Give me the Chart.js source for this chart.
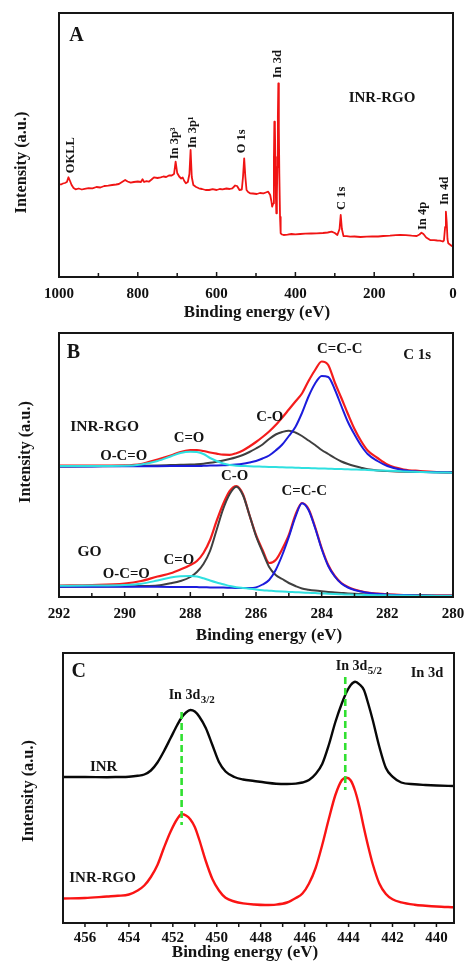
<!DOCTYPE html>
<html><head><meta charset="utf-8">
<script src="https://cdn.jsdelivr.net/npm/chart.js@4.4.1/dist/chart.umd.min.js"></script>
<style>
html,body{margin:0;padding:0;background:#fff;}
#wrap{position:relative;width:464px;height:964px;overflow:hidden;background:#fff;}
canvas{position:absolute;left:0;}
</style></head><body>
<div id="wrap">
<canvas id="chartA" width="464" height="323" style="top:0px"></canvas>
<canvas id="chartB" width="464" height="324" style="top:323px"></canvas>
<canvas id="chartC" width="464" height="317" style="top:647px"></canvas>
</div>
<script>
// ================= DATA =================
// Panel A: survey spectrum of INR-RGO
const surveyEnergy = [1000,995,990,985,980,976,972,968,963,958,950,942,935,925,915,905,895,885,875,865,855,848,840,832,826,818,810,800,792,788,784,778,772,765,759,750,742,735,728,721,714,708,704,700,695,690,686,682,678,673,669,666,663,659,652,645,637,628,619,610,600,592,585,575,567,560,553,548,542,536,533,530,527,524,520,515,508,498,490,481,475,469,464,461,459,456,454.5,453.4,452,450.9,449.5,448.4,447,445.8,444.5,443.3,442,440.8,439,437.4,434,430,420,410,400,388,375,360,346,330,318,308,300,293.5,288,285,282,278,270,261,250,235,219,205,190,177,160,145,134,120,105,92,85,80,75,68,58,48,40,33,26,23,20,18,16,14,12,8,3,0];
const surveyIntensity = [93,92.5,93.5,94,95,99.7,96,92,89,87.7,88.5,87.5,88.2,88.8,88.7,90,89.5,91,91.3,92,92.5,93,95,97,95.5,94.3,95,95.5,95,97.7,95,95.8,95.3,97.5,99.7,99,99.7,100.5,100,101.5,101.5,103,115.3,104,100.5,98.5,99.5,96,93.7,95,103,127,100,92,90,88.7,88,87,87,87.8,87,88,87.7,88.5,88,88.7,91.5,91,87,87.5,100,118.7,100,87,85,83.7,83.5,83,84,83.7,84.5,85.3,82,76,70.3,73.7,120,155.3,150,120,80,63.7,80,110,160,193.7,150,103.7,60,43.7,42.5,42,42.3,43,42.6,43,43.3,43.5,43.7,44,44.5,45.3,44,42,48,62,48,41,40.8,40.3,40.5,40,40.3,40.6,40.5,41,41.3,41.8,42,41.8,41.3,41,42.5,44.3,43,39.5,37,36.8,36.5,36.3,35.5,36.5,50,65.3,55,38,33.7,32.5,31,30.5];
const surveyTicks = [1000,800,600,400,200,0];
const surveyMinorTicks = [900,700,500,300,100];
const surveyPeakNames = ['OKLL','In 3p\u00B3','In 3p\u00B9','O 1s','In 3d','C 1s','In 4p','In 4d'];
const surveyPeakEnergy = [970,705.6,660,535.5,444,282,76,20];
const surveyPeakLabelLevel = [103.7,117.7,128.7,123.7,198.7,67,47,72];

// Panel B: C 1s spectra (INR-RGO upper, GO lower)
const c1sEnergy = [292,291,290,289.5,289,288.6,288.3,288,287.8,287.6,287.4,287.2,287,286.8,286.6,286.4,286.2,286,285.8,285.6,285.4,285.2,285,284.8,284.6,284.4,284.2,284,283.8,283.6,283.4,283.2,283,282.8,282.6,282.3,282,281.5,281,280.5,280];
const rgoEnvelope = [131.5,131.5,131.7,133,137.5,141.5,145,146.8,147,146,144.5,143.3,142.3,142.2,143.8,146.5,150.5,155,160,165.5,172,179.5,187.5,195.5,203.5,216,227,235.5,232,214.5,199,183,168,156,146.5,139,132.5,127.5,126,125,124.7];
const rgoCO = [130.5,130.7,131,131.2,131.5,131.9,132.2,132.5,132.8,133.3,134.2,135.3,136.5,138,139.8,142,145,148.5,152.5,158,162.5,165,166.3,164.5,161,156.5,152,147,143,139,135.5,133,131,129.3,127.8,126.6,126,125.3,125,124.7,124.5];
const rgoCCC = [130.5,130.6,130.7,130.7,130.8,130.9,131,131,131,131.2,131.4,131.6,131.8,132,132.5,133.3,134.5,136,138.5,141.5,146.5,152.5,161,170,184,200.5,213.5,221,220,207.5,191,175,162.5,151.5,143,136,131,126.7,125.3,124.8,124.6];
const rgoCdO = [131,131,131.2,132.5,136,140.5,144,145.3,145,143,139,136,133.5,132,131.3,131,130.7,130.5,130.3,130.1,130,129.7,129.5,129.3,129.1,128.9,128.7,128.5,128.3,128.1,127.9,127.7,127.5,127.3,127,126.6,126.3,125.6,125,124.6,124.3];
const goEnvelope = [11.5,12,13.5,16,20.5,23.7,27.5,32,36,44,57,76,93,106,111,103,82,62,47,34,37,48,62,82,94,88,70,49,32,21,14,10,7.5,5.8,4.5,3.4,2.7,2,1.6,1.4,1.3];
const goCO = [10.3,10.5,10.7,10.9,11.5,13.7,16,20,25,33,46,67,88,103,110.3,102,82,61,45,30,22,18,14,11,8.5,7.3,6.4,5.7,5.1,4.6,4.1,3.6,3.2,2.9,2.6,2.3,2,1.7,1.5,1.3,1.2];
const goCCC = [10.3,10.3,10.3,10.3,10.2,10.1,10,10,9.9,9.8,9.6,9.5,9.4,9.2,9,8.9,8.9,9.6,12.5,17,27,42,60,80,93.7,87,69,48,31,20.5,13.5,9.5,7,5.5,4.2,3.2,2.5,1.9,1.5,1.3,1.2];
const goCdO = [11.3,11.5,12,13.2,16.5,19.5,20.7,21,20.5,18.7,16.5,14.5,12.8,11,9.8,9,8.3,7.5,6.8,6.3,5.8,5.4,5.1,4.8,4.5,4.2,3.9,3.6,3.2,2.9,2.7,2.5,2.3,2.2,2,1.8,1.7,1.4,1.2,1.1,1];
const c1sTicks = [292,290,288,286,284,282,280];
const c1sMinorTicks = [291,289,287,285,283,281];
const c1sLabelText = ['C=C-C','C-O','C=O','O-C=O','C-O','C=C-C','C=O','O-C=O'];
const c1sLabelEnergy = [283.45,285.58,288.04,290.03,286.65,284.53,288.35,289.95];
const c1sLabelLevel = [248,180.3,158.7,141,121,106.3,37,22.7];

// Panel C: In 3d spectra
const in3dEnergy = [457,456,455,454.5,454,453.6,453.3,453,452.7,452.4,452.1,451.8,451.6,451.4,451.2,451,450.8,450.5,450.2,449.9,449.6,449.2,448.8,448.3,447.8,447.3,446.8,446.4,446.1,445.8,445.5,445.2,444.9,444.6,444.3,444.1,443.9,443.7,443.5,443.3,443.1,442.9,442.6,442.3,442,441.6,441,440.5,440,439.2];
const inrIntensity = [146,146,145.8,146,146.3,147.2,148.5,152.5,160.5,172,185,198,205.5,210.5,213,211.5,206.5,195,178,161,151.5,146,143.5,142,140.5,139.3,139,139.4,140.5,143,149,159,178,201,220,230.5,238,241.3,238.5,233,219,203,176.3,155,146.3,140.5,138.7,138,137.5,137];
const inrRgoIntensity = [24.5,25,26.5,27.2,28.5,32.5,37.5,46,58,75.5,91.5,104,108.7,107.5,103.5,96,83.5,62,44,32.5,25.2,21.5,19.6,18.5,18,18.4,20.5,25,29.5,39.5,55,78,104,128,143,145.3,142.5,132,115.5,95,76,59,39.5,29,23.7,20.6,18.3,17.3,16.5,15.7];
const in3dMarkEnergy = [451.6,444.15];
const in3dMarkTop = [211,246];
const in3dMarkBottom = [98,133];
const in3dTicks = [456,454,452,450,448,446,444,442,440];
const in3dMinorTicks = [455,453,451,449,447,445,443,441];

// ================= RENDERING =================
const FAMILY = '"Liberation Serif", "Times New Roman", serif';
const xy = (xs, ys) => xs.map((x, i) => ({x: x, y: ys[i]}));

const framePlugin = {
  id: 'frame',
  afterDatasetsDraw(chart, args, o) {
    const {ctx, chartArea: a, scales: {x}} = chart;
    ctx.save();
    ctx.strokeStyle = '#161616';
    ctx.lineWidth = 2;
    ctx.strokeRect(a.left, a.top, a.right - a.left, a.bottom - a.top);
    ctx.lineWidth = 1.5;
    const dir = o.outward ? 1 : -1;
    const draw = (vals, len) => {
      for (const v of vals) {
        const p = x.getPixelForValue(v);
        ctx.beginPath();
        ctx.moveTo(p, a.bottom);
        ctx.lineTo(p, a.bottom + dir * len);
        ctx.stroke();
      }
    };
    draw(o.major || [], o.majorLen || 5);
    draw(o.minor || [], o.minorLen || 4);
    ctx.restore();
  }
};

const textPlugin = {
  id: 'textLabels',
  afterDatasetsDraw(chart, args, o) {
    const {ctx, scales: {x, y}} = chart;
    ctx.save();
    ctx.fillStyle = '#141414';
    for (const L of (o.items || [])) {
      const px = L.px !== undefined ? L.px : x.getPixelForValue(L.x);
      const py = L.py !== undefined ? L.py : y.getPixelForValue(L.y);
      ctx.save();
      ctx.translate(px, py);
      if (L.rot) ctx.rotate(L.rot);
      ctx.font = 'bold ' + L.size + 'px ' + FAMILY;
      ctx.textBaseline = 'middle';
      ctx.textAlign = L.align || 'center';
      ctx.fillText(L.text, 0, 0);
      if (L.sub) {
        const w = ctx.measureText(L.text).width;
        ctx.font = 'bold ' + (L.subSize || 11) + 'px ' + FAMILY;
        ctx.textAlign = 'left';
        ctx.fillText(L.sub, w + 0.5, L.subDy || 5);
      }
      ctx.restore();
    }
    ctx.restore();
  }
};

Chart.register(framePlugin, textPlugin);

function options(p) {
  return {
    responsive: false,
    animation: false,
    devicePixelRatio: 1,
    layout: {padding: {left: 0, right: p.padRight, top: p.padTop, bottom: 0}},
    plugins: {
      legend: {display: false},
      tooltip: {enabled: false},
      frame: p.frame,
      textLabels: {items: p.labels}
    },
    scales: {
      x: {
        type: 'linear', reverse: true, min: p.xmin, max: p.xmax,
        afterBuildTicks: s => { s.ticks = p.ticks.map(v => ({value: v})); },
        afterFit: s => { s.height = p.xHeight; s.paddingLeft = 0; s.paddingRight = 0; },
        grid: {display: false, drawTicks: false},
        border: {display: false},
        ticks: {color: '#111', font: {family: FAMILY, size: 15, weight: 'bold'}, padding: p.tickPad,
                maxRotation: 0, minRotation: 0, autoSkip: false, callback: v => String(v)}
      },
      y: {
        type: 'linear', min: 0, max: p.ymax,
        afterFit: s => { s.width = p.yWidth; },
        ticks: {display: false},
        grid: {display: false, drawTicks: false},
        border: {display: false}
      }
    }
  };
}

function line(data, color, width, order, extra) {
  return Object.assign({data: data, borderColor: color, backgroundColor: color, borderWidth: width,
    pointRadius: 0, fill: false, order: order, cubicInterpolationMode: 'monotone', borderJoinStyle: 'round'}, extra || {});
}

const xTitle = (t, px, py) => ({text: t, px: px, py: py, size: 17});
const yTitle = (t, px, py) => ({text: t, px: px, py: py, size: 16.3, rot: -Math.PI / 2});

// ---------- Panel A ----------
const labelsA = [
  {text: 'A', x: 955.6, y: 240.7, size: 20},
  {text: 'INR-RGO', x: 180.2, y: 179, size: 15},
  xTitle('Binding energy (eV)', 257, 313),
  yTitle('Intensity (a.u.)', 21.5, 162.5)
];
surveyPeakNames.forEach((t, i) => labelsA.push({text: t, x: surveyPeakEnergy[i], y: surveyPeakLabelLevel[i], size: 12.5, rot: -Math.PI / 2, align: 'left'}));

new Chart(document.getElementById('chartA'), {
  type: 'line',
  data: {datasets: [line(xy(surveyEnergy, surveyIntensity), '#f01414', 1.8, 0, {cubicInterpolationMode: 'default', tension: 0})]},
  options: options({padRight: 11, padTop: 13, xmin: 0, xmax: 1000, ticks: surveyTicks, xHeight: 46, tickPad: 8.5,
    ymax: 264, yWidth: 59, labels: labelsA,
    frame: {major: surveyTicks, minor: surveyMinorTicks, outward: false, majorLen: 5, minorLen: 4}})
});

// ---------- Panel B ----------
const labelsB = [
  {text: 'B', x: 291.56, y: 244, size: 20},
  {text: 'C 1s', x: 281.09, y: 242, size: 15},
  {text: 'INR-RGO', x: 290.61, y: 169.7, size: 15.5},
  {text: 'GO', x: 291.07, y: 44.7, size: 15.5},
  xTitle('Binding energy (eV)', 269, 313),
  yTitle('Intensity (a.u.)', 26, 129)
];
c1sLabelText.forEach((t, i) => labelsB.push({text: t, x: c1sLabelEnergy[i], y: c1sLabelLevel[i], size: 14.8}));

const RED = '#f41c1c', BLUE = '#1c1cdc', GREY = '#3f3f3f', CYAN = '#2fe0e0';
new Chart(document.getElementById('chartB'), {
  type: 'line',
  data: {datasets: [
    line(xy(c1sEnergy, rgoCdO), CYAN, 2, 0),
    line(xy(c1sEnergy, rgoCCC), BLUE, 2, 1),
    line(xy(c1sEnergy, rgoCO), GREY, 2, 2),
    line(xy(c1sEnergy, rgoEnvelope), RED, 2.2, 3),
    line(xy(c1sEnergy, goCdO), CYAN, 2, 0),
    line(xy(c1sEnergy, goCCC), BLUE, 2, 1),
    line(xy(c1sEnergy, goCO), GREY, 2, 2),
    line(xy(c1sEnergy, goEnvelope), RED, 2.2, 3)
  ]},
  options: options({padRight: 11, padTop: 10, xmin: 280, xmax: 292, ticks: c1sTicks, xHeight: 50, tickPad: 8.5,
    ymax: 264, yWidth: 59, labels: labelsB,
    frame: {major: c1sTicks, minor: c1sMinorTicks, outward: false, majorLen: 5, minorLen: 4}})
});

// ---------- Panel C ----------
const labelsC = [
  {text: 'C', x: 456.28, y: 251.3, size: 20},
  {text: 'In 3d', x: 452.19, y: 228, size: 14, align: 'left', sub: '3/2', subSize: 11, subDy: 5},
  {text: 'In 3d', x: 444.58, y: 257, size: 14, align: 'left', sub: '5/2', subSize: 11, subDy: 5},
  {text: 'In 3d', x: 440.43, y: 250, size: 14.5},
  {text: 'INR', x: 455.15, y: 156, size: 15},
  {text: 'INR-RGO', x: 455.2, y: 45, size: 15},
  xTitle('Binding energy (eV)', 245, 306),
  yTitle('Intensity (a.u.)', 28.3, 144)
];
const markSets = in3dMarkEnergy.map((e, i) => line([{x: e, y: in3dMarkTop[i]}, {x: e, y: in3dMarkBottom[i]}],
  '#30e030', 2.6, -1, {borderDash: [7, 4], cubicInterpolationMode: 'default', tension: 0}));

new Chart(document.getElementById('chartC'), {
  type: 'line',
  data: {datasets: markSets.concat([
    line(xy(in3dEnergy, inrIntensity), '#080808', 2.4, 1),
    line(xy(in3dEnergy, inrRgoIntensity), '#fa1414', 2.4, 2)
  ])},
  options: options({padRight: 10, padTop: 6, xmin: 439.2, xmax: 457, ticks: in3dTicks, xHeight: 41, tickPad: 6,
    ymax: 270, yWidth: 63, labels: labelsC,
    frame: {major: in3dTicks, minor: in3dMinorTicks, outward: true, majorLen: 4, minorLen: 4}})
});
</script>
</body></html>
